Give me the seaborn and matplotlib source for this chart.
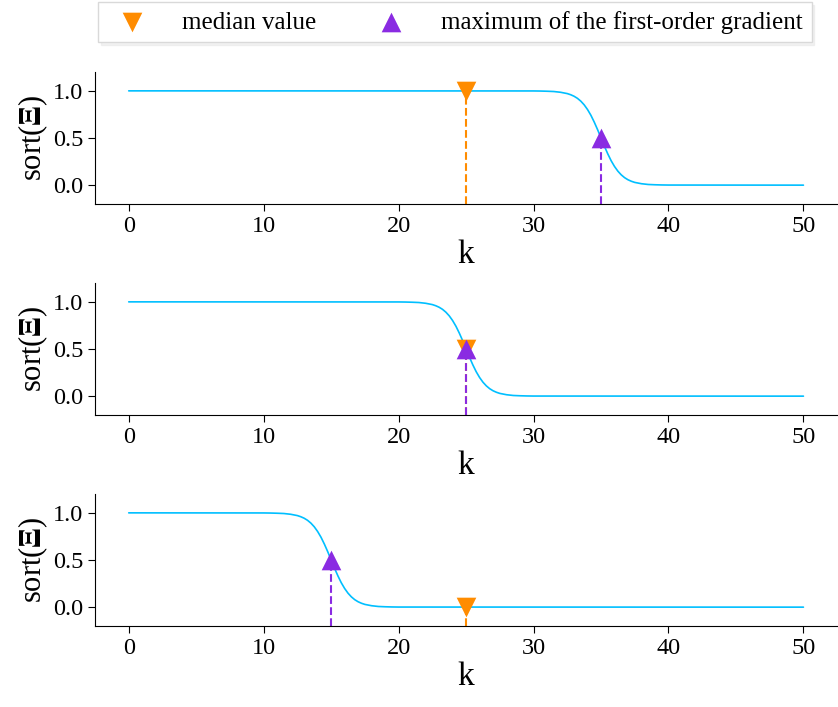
import numpy as np
import pandas as pd
import matplotlib
matplotlib.use("Agg")
import matplotlib.pyplot as plt
import seaborn as sns

sns.set_style("ticks", {"axes.edgecolor": "black", "text.color": "black",
                        "axes.labelcolor": "black", "xtick.color": "black",
                        "ytick.color": "black"})
plt.rcParams["font.family"] = ["Liberation Serif", "DejaVu Serif"]
plt.rcParams["mathtext.fontset"] = "stix"

# transition profile of the sorted curve (offset from centre -> value)
profile_offset = [-5.0, -4.5, -4.0, -3.5, -3.0, -2.5, -2.25, -2.0, -1.75, -1.5, -1.25,
                  -1.0, -0.75, -0.5, -0.25, 0.0, 0.25, 0.5, 0.75, 1.0, 1.25, 1.5,
                  1.75, 2.0, 2.25, 2.5, 3.0, 3.5, 4.0, 4.5, 5.0]
profile_value = [0.999, 0.998, 0.996, 0.993, 0.985, 0.971, 0.959, 0.943, 0.921, 0.891, 0.852,
                 0.802, 0.741, 0.668, 0.587, 0.5, 0.413, 0.332, 0.259, 0.198, 0.148, 0.109,
                 0.079, 0.057, 0.041, 0.029, 0.015, 0.007, 0.004, 0.002, 0.001]
k_start, k_end = 0, 50
centres = [35, 25, 15]               # location of max first-order gradient
median_k = [25, 25, 25]
median_y = [1.0, 0.5, 0.0]
grad_y = [0.5, 0.5, 0.5]

line_color = "#00BFFF"
med_color = "#FF8C00"
grad_color = "#8A2BE2"

fig = plt.figure(figsize=(8.38, 7.07), dpi=100)
tops = [72, 283, 494]
H = 707.0
W = 838.0
axes = []
for t in tops:
    ax = fig.add_axes([95 / W, (H - t - 132) / H, (W - 95) / W - 0.001, 132 / H])
    axes.append(ax)

for i, ax in enumerate(axes):
    c = centres[i]
    ks = [k_start] + [c + o for o in profile_offset] + [k_end]
    vs = [1.0] + profile_value + [0.0]
    df = pd.DataFrame({"k": ks, "v": vs})
    sns.lineplot(data=df, x="k", y="v", ax=ax, color=line_color, linewidth=1.2)
    ax.vlines(median_k[i], -0.2, median_y[i], colors=med_color, linestyles="--", linewidth=1.5, zorder=2)
    ax.vlines(c, -0.2, grad_y[i], colors=grad_color, linestyles="--", linewidth=1.5, zorder=2)
    sns.scatterplot(x=[median_k[i]], y=[median_y[i]], ax=ax, marker="v", color=med_color,
                    s=200, edgecolor=med_color, linewidth=0, zorder=4,
                    label="median value" if i == 0 else None)
    sns.scatterplot(x=[c], y=[grad_y[i]], ax=ax, marker="^", color=grad_color,
                    s=200, edgecolor=grad_color, linewidth=0, zorder=5,
                    label="maximum of the first-order gradient" if i == 0 else None)
    ax.set_xlim(-2.5, 52.5)
    ax.set_ylim(-0.2, 1.2)
    ax.set_xticks([0, 10, 20, 30, 40, 50])
    ax.set_yticks([0.0, 0.5, 1.0])
    ax.set_yticklabels(["0.0", "0.5", "1.0"])
    ax.tick_params(labelsize=17.5, length=5)
    ax.set_xlabel("k", fontsize=24, labelpad=2)
    ax.set_ylabel("sort($\\mathbf{\\Xi}$)", fontsize=22, labelpad=2)
    sns.despine(ax=ax)
    if i == 0:
        ax.legend(loc="lower center", bbox_to_anchor=(0.485, 1.13), ncol=2, fontsize=18,
                  frameon=True, fancybox=False, edgecolor="0.85", shadow={"color": "0.9"},
                  columnspacing=2.0, handletextpad=1.0, borderpad=0.35)
    else:
        if ax.get_legend() is not None:
            ax.get_legend().remove()

fig.savefig("out.png", dpi=100)
